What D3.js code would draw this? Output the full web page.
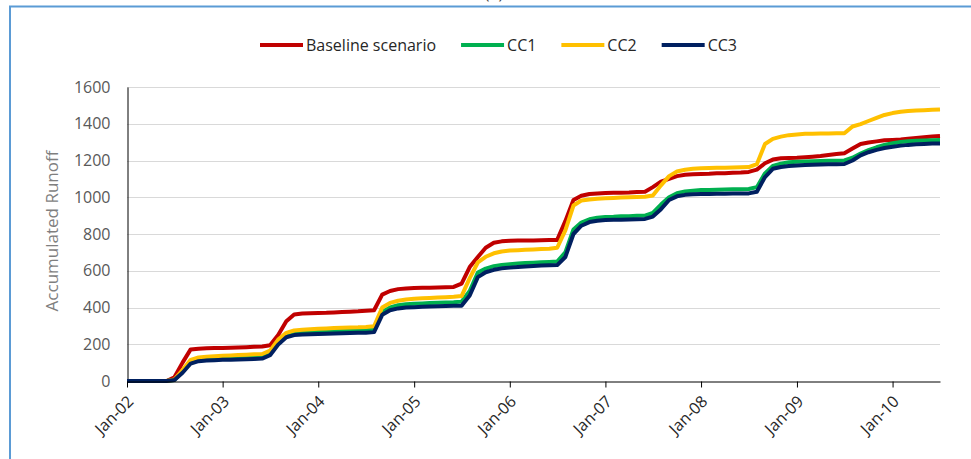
<!DOCTYPE html>
<html>
<head>
<meta charset="utf-8">
<script src="https://cdn.jsdelivr.net/npm/d3@7"></script>
<style>
  html, body { margin: 0; padding: 0; background: #ffffff; }
  svg { display: block; font-family: "Open Sans", "DejaVu Sans", sans-serif; }
</style>
</head>
<body>
<svg id="chart" width="971" height="459"></svg>
<script>
// ---- Data: monthly accumulated runoff, Jan 2002 .. Jul 2010 ----
const seriesNames  = ["Baseline scenario", "CC1", "CC2", "CC3"];
const seriesColors = ["#C00000", "#00B050", "#FFC000", "#002060"];

const startMonth = new Date(2002, 0, 1);
const endMonth   = new Date(2010, 6, 1);
const months = d3.timeMonth.range(startMonth, d3.timeMonth.offset(endMonth, 1));

const baseline = [
  0, 0, 0, 0, 0, 0, 20, 100, 172, 176, 178, 179,
  180, 181, 182, 184, 186, 188, 195, 250, 325, 362, 367, 369,
  370, 371, 373, 375, 377, 379, 382, 385, 470, 490, 500, 504,
  506, 507, 508, 509, 510, 512, 530, 620, 675, 725, 752, 760,
  763, 764, 765, 765, 766, 767, 768, 870, 985, 1008, 1018, 1021,
  1023, 1024, 1025, 1026, 1028, 1030, 1055, 1085, 1100, 1115, 1122, 1125,
  1127, 1128, 1130, 1131, 1133, 1135, 1138, 1150, 1185, 1205, 1212, 1214,
  1215, 1218, 1221, 1225, 1230, 1235, 1240, 1265, 1290, 1298, 1304, 1310,
  1312, 1314, 1318, 1322, 1326, 1330, 1333
];
const cc1 = [
  0, 0, 0, 0, 0, 0, 6, 52, 105, 118, 121, 123,
  125, 126, 127, 129, 130, 132, 150, 210, 248, 260, 264, 267,
  270, 272, 274, 276, 278, 279, 280, 283, 375, 400, 412, 418,
  420, 422, 424, 426, 427, 428, 432, 490, 590, 612, 625, 632,
  636, 639, 642, 644, 646, 648, 650, 700, 825, 862, 880, 888,
  893, 894, 896, 897, 899, 900, 915, 960, 1000, 1022, 1032, 1036,
  1039, 1040, 1041, 1042, 1043, 1044, 1045, 1055, 1130, 1170, 1183, 1190,
  1193, 1195, 1196, 1197, 1198, 1199, 1200, 1215, 1238, 1256, 1272, 1285,
  1294, 1301, 1305, 1307, 1309, 1310, 1311
];
const cc2 = [
  0, 0, 0, 0, 0, 0, 8, 60, 115, 128, 132, 135,
  137, 139, 141, 143, 145, 147, 165, 225, 262, 275, 279, 282,
  284, 286, 288, 290, 291, 292, 294, 298, 400, 425, 437, 443,
  447, 450, 452, 454, 456, 458, 462, 560, 645, 676, 695, 705,
  710, 712, 714, 716, 718, 720, 725, 820, 955, 982, 988, 992,
  994, 996, 998, 1000, 1001, 1003, 1010, 1065, 1115, 1140, 1150, 1155,
  1158, 1159, 1160, 1161, 1162, 1163, 1164, 1180, 1290, 1318, 1330, 1338,
  1342, 1345, 1346, 1347, 1347, 1348, 1348, 1385, 1398, 1415, 1432, 1448,
  1458, 1465, 1469, 1472, 1474, 1476, 1478
];
const cc3 = [
  0, 0, 0, 0, 0, 0, 5, 45, 95, 108, 111, 113,
  115, 116, 117, 119, 120, 122, 140, 198, 238, 250, 253, 255,
  256, 257, 258, 260, 261, 262, 263, 266, 360, 385, 395, 400,
  402, 404, 406, 407, 408, 409, 410, 465, 565, 592, 605, 613,
  617, 620, 623, 626, 628, 630, 631, 675, 800, 845, 865, 872,
  876, 877, 878, 879, 880, 882, 895, 935, 985, 1005, 1013, 1016,
  1018, 1018, 1019, 1019, 1020, 1020, 1021, 1030, 1110, 1155, 1165, 1170,
  1173, 1175, 1177, 1178, 1179, 1180, 1181, 1200, 1228, 1245, 1258, 1268,
  1275, 1281, 1285, 1288, 1290, 1292, 1293
];
const seriesValues = [baseline, cc1, cc2, cc3];

const yTicks = [0, 200, 400, 600, 800, 1000, 1200, 1400, 1600];
const xTickDates = d3.timeYear.range(new Date(2002, 0, 1), new Date(2010, 0, 2));
const yTitle = "Accumulated Runoff";
const panelLabel = "(a)";

// ---- Layout ----
const W = 971, H = 459;
const plot = { left: 127, right: 940, top: 87, bottom: 381 };

const svg = d3.select("#chart");
svg.append("rect").attr("width", W).attr("height", H).attr("fill", "#ffffff");

// frame of the panel
svg.append("path")
  .attr("d", `M10,${H} L10,6.5 L${W},6.5`)
  .attr("fill", "none").attr("stroke", "#5B9BD5").attr("stroke-width", 2);

// panel label sits above the frame, only its lower edge is in view
svg.append("text")
  .attr("x", 494).attr("y", -1.5)
  .attr("text-anchor", "middle")
  .attr("font-size", 16).attr("fill", "#404040")
  .text(panelLabel);

const x = d3.scaleTime().domain([startMonth, endMonth]).range([plot.left, plot.right]);
const y = d3.scaleLinear().domain([0, 1600]).range([plot.bottom, plot.top]);

// gridlines
svg.append("g").selectAll("line")
  .data(yTicks.filter(d => d > 0))
  .join("line")
  .attr("x1", plot.left).attr("x2", plot.right)
  .attr("y1", d => Math.round(y(d)) + 0.5).attr("y2", d => Math.round(y(d)) + 0.5)
  .attr("stroke", "#D9D9D9").attr("stroke-width", 1);

// y axis
const yAxis = svg.append("g")
  .attr("transform", `translate(${plot.left + 0.5},0)`)
  .call(d3.axisLeft(y).tickValues(yTicks).tickFormat(d3.format("d"))
    .tickSize(0).tickPadding(17));
yAxis.select(".domain").attr("stroke", "#000000");
yAxis.selectAll("text")
  .attr("font-family", "'Open Sans', sans-serif")
  .attr("font-size", 16).attr("fill", "#595959");

svg.append("text")
  .attr("transform", `translate(58,231) rotate(-90)`)
  .attr("text-anchor", "middle")
  .attr("font-size", 17).attr("fill", "#7F7F7F")
  .text(yTitle);

// lines
const line = d3.line()
  .x((d, i) => x(months[i]))
  .y(d => y(d));

svg.append("g").selectAll("path")
  .data(seriesValues)
  .join("path")
  .attr("d", d => line(d))
  .attr("fill", "none")
  .attr("stroke", (d, i) => seriesColors[i])
  .attr("stroke-width", 4)
  .attr("stroke-linejoin", "round")
  .attr("stroke-linecap", "butt");

// x axis
const xAxis = svg.append("g")
  .attr("transform", `translate(0,${plot.bottom + 0.5})`)
  .call(d3.axisBottom(x).tickValues(xTickDates)
    .tickFormat(d3.timeFormat("%b-%y")).tickSize(6).tickSizeOuter(0));
xAxis.select(".domain").attr("stroke", "#000000");
xAxis.selectAll(".tick line").attr("stroke", "#000000");
xAxis.selectAll("text")
  .attr("font-family", "'Open Sans', sans-serif")
  .attr("font-size", 16).attr("fill", "#262626")
  .attr("text-anchor", "end")
  .attr("x", 0).attr("y", 0).attr("dy", 0)
  .attr("transform", "translate(7,21) rotate(-45)");

// legend
const legend = svg.append("g").attr("font-size", 16).attr("fill", "#262626");
let lx = 260;
const ly = 45;
seriesNames.forEach((name, i) => {
  const g = legend.append("g");
  g.append("line")
    .attr("x1", lx).attr("x2", lx + 43)
    .attr("y1", ly).attr("y2", ly)
    .attr("stroke", seriesColors[i]).attr("stroke-width", 4);
  const t = g.append("text")
    .attr("x", lx + 46).attr("y", ly).attr("dy", "0.35em")
    .text(name);
  lx += 46 + t.node().getComputedTextLength() + 25;
});
</script>
</body>
</html>
